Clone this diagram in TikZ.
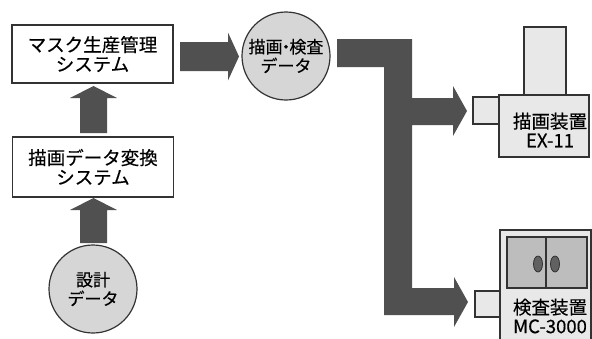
\documentclass[tikz,border=0pt]{standalone}
\usepackage{fontspec}
\setmainfont{Noto Sans CJK JP}
\newfontfamily\labelfont[FakeBold=0.35]{Noto Sans CJK JP}
\usetikzlibrary{calc}
\definecolor{arrowgray}{HTML}{505050}
\definecolor{circlegray}{HTML}{D6D6D6}
\definecolor{devgray}{HTML}{E8E8E8}
\definecolor{panelgray}{HTML}{BDBDBD}
\definecolor{edge}{HTML}{333333}
\tikzset{
  sysbox/.style={draw=edge, line width=1.2pt, fill=white, minimum width=161pt,
    minimum height=58pt, align=center, inner sep=0pt,
    font=\labelfont\fontsize{18.5}{19.5}\selectfont},
  datacircle/.style={circle, draw=edge, line width=1.2pt, fill=circlegray,
    minimum size=88pt, align=center, inner sep=0pt,
    font=\labelfont\fontsize{17}{19}\selectfont},
  devpart/.style={draw=edge, line width=1.1pt, fill=devgray},
  devlabel/.style={align=center, inner sep=0pt,
    font=\labelfont\fontsize{18.5}{19}\selectfont},
  blockarrow/.style={fill=arrowgray},
}
% horizontal block arrow: start x, tip x, centre y
\newcommand{\hblock}[3]{%
  \fill[blockarrow] (#1,#3-14.5) -- (#2-11,#3-14.5) -- (#2-11,#3-24) -- (#2,#3)
    -- (#2-11,#3+24) -- (#2-11,#3+14.5) -- (#1,#3+14.5) -- cycle;}
% vertical block arrow pointing up: bottom y, tip y, centre x
\newcommand{\vblock}[3]{%
  \fill[blockarrow] (#3-13.5,#1) -- (#3-13.5,#2+12) -- (#3-23.5,#2+12) -- (#3,#2)
    -- (#3+23.5,#2+12) -- (#3+13.5,#2+12) -- (#3+13.5,#1) -- cycle;}
\begin{document}
\begin{tikzpicture}[x=1pt, y=-1pt]
\useasboundingbox (0,0) rectangle (592,338);
\clip (0,0) rectangle (592,338);

% systems and data
\node[sysbox] (mgmt) at (92.5,54) {マスク生産管理\\システム};
\node[sysbox, minimum height=60pt] (conv) at (93,167) {描画データ変換\\システム};
\node[datacircle] (design) at (93,289) {設計\\データ};
\node[datacircle] (wdata) at (286,56) {描画\kern-0.3em・\kern-0.3em検査\\データ};

% flow arrows
\vblock{243}{198}{93.5}
\vblock{133}{86}{93.5}
\hblock{180}{239}{56.5}

% branching arrow to both machines
\fill[blockarrow] (337,39) -- (412,39) -- (412,98) -- (453,98) -- (453,86)
  -- (467,111) -- (453,136) -- (453,125) -- (412,125) -- (412,288)
  -- (454,288) -- (454,277) -- (468,302) -- (454,327) -- (454,315)
  -- (384,315) -- (384,67) -- (337,67) -- cycle;

% writer EX-11
\draw[devpart] (524,27) rectangle (566,96);
\draw[devpart] (473,97) rectangle (499,124);
\draw[devpart] (499,95) rectangle (589,157);
\node[devlabel] (writer) at (550,130) {描画装置\\EX-11};

% inspection MC-3000
\draw[devpart] (475,291) rectangle (500,317);
\draw[devpart] (500,230) rectangle (591,350);
\draw[draw=edge, line width=1.1pt, fill=panelgray] (507,237) rectangle (587,288);
\draw[edge, line width=1.1pt] (546,237) -- (546,288);
\filldraw[fill=arrowgray!90, draw=edge, line width=0.8pt] (538,264) ellipse (4.5pt and 8pt);
\filldraw[fill=arrowgray!90, draw=edge, line width=0.8pt] (555,264) ellipse (4.5pt and 8pt);
\node[devlabel] (inspector) at (550,316) {検査装置\\MC-3000};
\end{tikzpicture}
\end{document}
